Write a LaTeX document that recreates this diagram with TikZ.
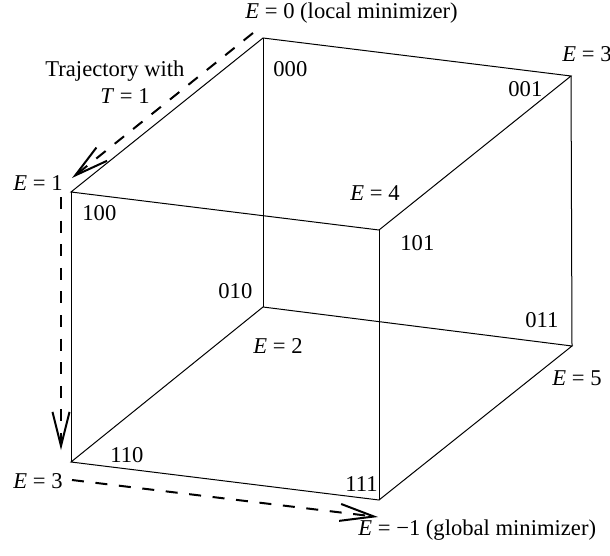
\documentclass[tikz,border=0pt]{standalone}
\usepackage{fontspec}
\setmainfont{Liberation Serif}
\usetikzlibrary{arrows.meta}
\tikzset{
  edge/.style={line width=0.5pt},
  traj/.style={line width=1pt, dash pattern=on 6pt off 5.8pt, -{Straight Barb[length=17pt,width=8.5pt,line width=1pt]}},
  lbl/.style={anchor=base west, inner sep=0pt, font=\fontsize{11.3pt}{13pt}\selectfont}
}
\begin{document}
\begin{tikzpicture}[x=0.5pt,y=-0.5pt]
\useasboundingbox (0,0) rectangle (610,556);
% cube vertices
\coordinate (v000) at (263,38);
\coordinate (v001) at (571,76);
\coordinate (v100) at (71,192);
\coordinate (v101) at (379,230);
\coordinate (v010) at (263,307);
\coordinate (v011) at (572,346);
\coordinate (v110) at (71,462);
\coordinate (v111) at (379,500);
% edges
\draw[edge] (v000) -- (v001) -- (v101) -- (v100) -- cycle;
\draw[edge] (v010) -- (v011) -- (v111) -- (v110) -- cycle;
\draw[edge] (v000) -- (v010);
\draw[edge] (v001) -- (v011);
\draw[edge] (v100) -- (v110);
\draw[edge] (v101) -- (v111);
% labels
\node[lbl] (e0) at (245,19) {\textit{E} = 0 (local minimizer)};
\node[lbl] (tr1) at (45,77) {Trajectory with};
\node[lbl] (tr2) at (100,104) {\textit{T} = 1};
\node[lbl] (l000) at (273,76) {000};
\node[lbl] (e1) at (13,190) {\textit{E} = 1};
\node[lbl] (l100) at (82,220) {100};
\node[lbl] (e3a) at (562,62) {\textit{E} = 3};
\node[lbl] (l001) at (508,97) {001};
\node[lbl] (e4) at (350,200) {\textit{E} = 4};
\node[lbl] (l101) at (400,250) {101};
\node[lbl] (l010) at (218,298) {010};
\node[lbl] (e2) at (253,353) {\textit{E} = 2};
\node[lbl] (l110) at (110,462) {110};
\node[lbl] (e3b) at (13,488) {\textit{E} = 3};
\node[lbl] (l011) at (525,327) {011};
\node[lbl] (e5) at (552,385) {\textit{E} = 5};
\node[lbl] (l111) at (345,491) {111};
\node[lbl] (em1) at (358,535) {\textit{E} = −1 (global minimizer)};
% trajectory
\coordinate (t0) at (253,33);
\coordinate (t1) at (72,178);
\coordinate (t2s) at (61,197);
\coordinate (t2) at (61,450);
\coordinate (t3s) at (72,480);
\coordinate (t3) at (378,517);
\draw[traj] (t0) -- (t1);
\draw[traj] (t2s) -- (t2);
\draw[traj] (t3s) -- (t3);
\end{tikzpicture}
\end{document}
